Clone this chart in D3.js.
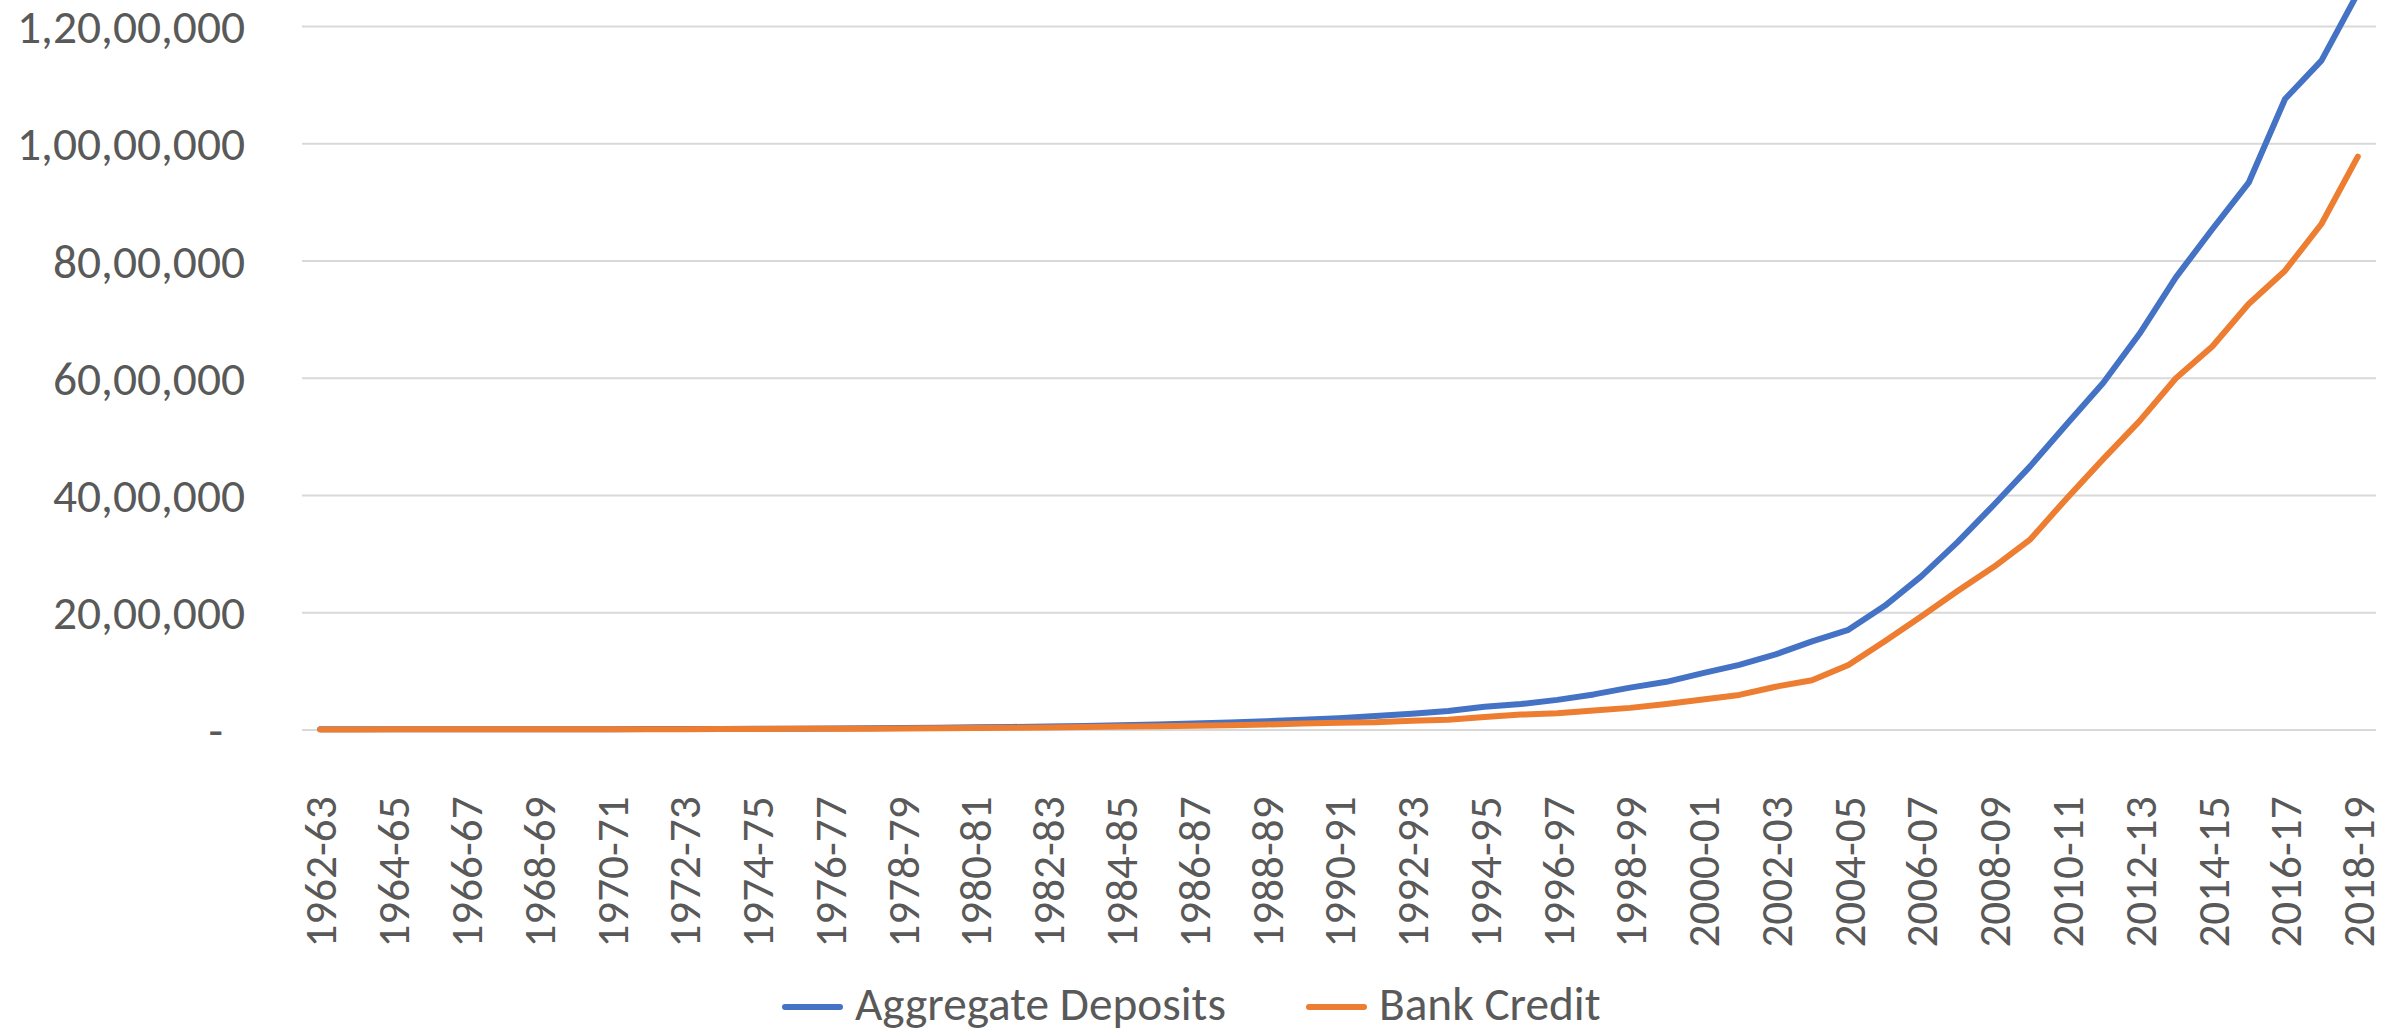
<!DOCTYPE html>
<html>
<head>
<meta charset="utf-8">
<script src="https://cdn.jsdelivr.net/npm/d3@7"></script>
<style>
  body { margin: 0; background: #fff; }
  text { font-family: Carlito, Calibri, Lato, sans-serif; fill: #595959; }
</style>
</head>
<body>
<div id="chart"></div>
<script>
const years = [
  "1962-63", "1963-64", "1964-65", "1965-66", "1966-67", "1967-68", "1968-69", "1969-70",
  "1970-71", "1971-72", "1972-73", "1973-74", "1974-75", "1975-76", "1976-77", "1977-78",
  "1978-79", "1979-80", "1980-81", "1981-82", "1982-83", "1983-84", "1984-85", "1985-86",
  "1986-87", "1987-88", "1988-89", "1989-90", "1990-91", "1991-92", "1992-93", "1993-94",
  "1994-95", "1995-96", "1996-97", "1997-98", "1998-99", "1999-00", "2000-01", "2001-02",
  "2002-03", "2003-04", "2004-05", "2005-06", "2006-07", "2007-08", "2008-09", "2009-10",
  "2010-11", "2011-12", "2012-13", "2013-14", "2014-15", "2015-16", "2016-17", "2017-18",
  "2018-19"
];

const aggregateDeposits = [
  2300, 2600, 2900, 3300, 3700, 4200, 4700, 5300,
  6000, 7100, 8600, 10100, 12000, 14500, 18000, 22000,
  26500, 31800, 37900, 43700, 51400, 60600, 72200, 85700,
  102700, 118700, 140100, 166900, 192500, 230800, 268600, 315100,
  386900, 433800, 505600, 598500, 714000, 813300, 962600, 1103400,
  1280900, 1504400, 1700200, 2109000, 2611900, 3196900, 3834100, 4492800,
  5207900, 5909100, 6750400, 7713000, 8533300, 9327300, 10754300, 11410000,
  12560000
];

const bankCredit = [
  1800, 2000, 2300, 2600, 3000, 3300, 3600, 4200,
  4700, 5300, 6100, 7400, 8900, 10900, 12700, 14300,
  17400, 21500, 25400, 30000, 35500, 41300, 49300, 56100,
  63300, 71000, 84700, 104300, 116300, 125600, 151000, 164400,
  211600, 254000, 278400, 324100, 368800, 435900, 511400, 589700,
  729200, 840800, 1100400, 1507100, 1928900, 2361900, 2775500, 3244800,
  3942100, 4611900, 5260200, 5990500, 6533500, 7258500, 7826300, 8623000,
  9771000
];

const yTicks = [0, 2000000, 4000000, 6000000, 8000000, 10000000, 12000000];
const yTickLabels = ["-", "20,00,000", "40,00,000", "60,00,000", "80,00,000", "1,00,00,000", "1,20,00,000"];

const seriesNames = ["Aggregate Deposits", "Bank Credit"];
const seriesColors = ["#4472C4", "#ED7D31"];

const width = 2387;
const height = 1032;
const plotLeft = 302;
const plotRight = 2376;
const plotTop = 26;
const plotBottom = 729.5;

const svg = d3.select('#chart')
  .append('svg')
  .attr('width', width)
  .attr('height', height)
  .style('display', 'block')

// the original font is Calibri, so size whatever font we get to the widths seen in the picture
const fitSize = (sample, targetWidth) => {
  const t = svg.append('text').style('font-size', '40px').text(sample);
  const w = t.node().getComputedTextLength();
  t.remove();
  return 40 * targetWidth / w;
}

const yFont = fitSize('1,20,00,000', 228);
const xFont = fitSize('1962-63', 151);
const legendFont = fitSize('Aggregate Deposits', 371);

const xScale = d3.scalePoint()
  .domain(years)
  .range([plotLeft, plotRight])
  .padding(0.5)

const yScale = d3.scaleLinear()
  .domain([0, 12000000])
  .range([plotBottom, plotTop])

// gridlines + y labels
const yAxis = d3.axisLeft(yScale)
  .tickValues(yTicks)
  .tickSize(-(plotRight - plotLeft))
  .tickPadding(57)
  .tickFormat((d, i) => yTickLabels[i])

const yG = svg.append('g')
  .attr('transform', `translate(${plotLeft}, 0)`)
  .call(yAxis)

yG.select('.domain').remove()
yG.selectAll('.tick line')
  .attr('stroke', '#D9D9D9')
  .attr('stroke-width', 2)
yG.selectAll('.tick text')
  .style('font-size', yFont + 'px')
  .attr('fill', '#595959')
  .attr('dy', '0.35em')
  .attr('dx', (d, i) => i === 0 ? -22 : 0)

// x labels, every other year, rotated
const xAxis = d3.axisBottom(xScale)
  .tickValues(years.filter((d, i) => i % 2 === 0))
  .tickSize(0)
  .tickPadding(0)

const xG = svg.append('g')
  .attr('transform', `translate(0, ${plotBottom})`)
  .call(xAxis)

xG.select('.domain').remove()
xG.selectAll('.tick text')
  .style('font-size', xFont + 'px')
  .attr('fill', '#595959')
  .attr('text-anchor', 'end')
  .attr('transform', 'rotate(-90)')
  .attr('x', -67)
  .attr('y', 0)
  .attr('dy', '0.35em')

// lines
const line = d3.line()
  .x((d, i) => xScale(years[i]))
  .y(d => yScale(d))

const series = [aggregateDeposits, bankCredit];

svg.selectAll('path.series')
  .data(series)
  .enter()
  .append('path')
  .attr('class', 'series')
  .attr('d', d => line(d))
  .attr('fill', 'none')
  .attr('stroke', (d, i) => seriesColors[i])
  .attr('stroke-width', 6)
  .attr('stroke-linejoin', 'round')
  .attr('stroke-linecap', 'round')

// legend
const legendX = [785, 1309];
const legendY = 1007;

const legend = svg.selectAll('g.legend')
  .data(seriesNames)
  .enter()
  .append('g')
  .attr('class', 'legend')
  .attr('transform', (d, i) => `translate(${legendX[i]}, ${legendY})`)

legend.append('line')
  .attr('x1', 0)
  .attr('x2', 55)
  .attr('stroke', (d, i) => seriesColors[i])
  .attr('stroke-width', 6)
  .attr('stroke-linecap', 'round')

legend.append('text')
  .attr('x', 70)
  .attr('y', 13)
  .style('font-size', legendFont + 'px')
  .text(d => d)
</script>
</body>
</html>
